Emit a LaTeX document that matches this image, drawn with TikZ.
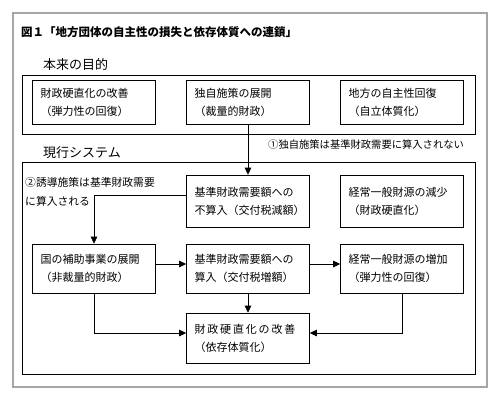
\documentclass[tikz,border=0pt]{standalone}
\usepackage{fontspec}
\setmainfont{Noto Sans CJK JP}
\usetikzlibrary{arrows.meta}

\begin{document}
\begin{tikzpicture}[x=1pt,y=-1pt,
  box/.style={draw,line width=.6pt,text width=107pt,inner xsep=8pt,inner ysep=0pt,
    align=left,font=\fontsize{11}{18}\selectfont},
  arr/.style={line width=.6pt,-{Triangle[length=7pt,width=6.5pt]}},
  dbl/.style={double,double distance=1.6pt,line width=.5pt},
  lbl/.style={inner sep=0pt,anchor=west}]
\useasboundingbox (0,0) rectangle (500,400);
\draw[gray!70,line width=1.4pt] (13,13) rectangle (487,387);
\node[lbl,font=\fontsize{11.5}{14}\selectfont\bfseries] (title) at (21,32) {図１「地方団体の自主性の損失と依存体質への連鎖」};

% 本来の目的
\node[lbl,font=\fontsize{13}{15}\selectfont] (honrai) at (43,65) {本来の目的};
\draw[line width=1pt] (22,75) rectangle (475,134);
\node[box,minimum height=44pt] (kaizen) at (94,102) {財政硬直化の改善\\（弾力性の回復）};
\node[box,minimum height=44pt] (dokuji) at (248,102) {独自施策の展開\\（裁量的財政）};
\node[box,minimum height=44pt] (jishu) at (402,102) {地方の自主性回復\\（自立体質化）};
\draw[dbl] ([yshift=7pt]kaizen.east) -- ([yshift=7pt]dokuji.west);
\draw[dbl] ([yshift=7pt]dokuji.east) -- ([yshift=7pt]jishu.west);

\node[lbl,font=\fontsize{10.3}{12}\selectfont] (note1) at (268,145) {①独自施策は基準財政需要に算入されない};

% 現行システム
\node[lbl,font=\fontsize{13}{15}\selectfont] (genkou) at (43,153) {現行システム};
\draw[line width=1pt] (22,162) rectangle (475,374);
\node[box,minimum height=52pt] (fusan) at (248,201) {基準財政需要額への\\不算入（交付税減額）};
\node[box,minimum height=52pt] (genshou) at (402,201) {経常一般財源の減少\\（財政硬直化）};
\node[inner sep=0pt,anchor=north west,align=left,font=\fontsize{10.8}{19}\selectfont] (note2) at (25,177) {②誘導施策は基準財政需要\\に算入される};
\node[box,minimum height=49pt] (hojo) at (94,268.5) {国の補助事業の展開\\（非裁量的財政）};
\node[box,minimum height=49pt] (sannyu) at (248,268.5) {基準財政需要額への\\算入（交付税増額）};
\node[box,minimum height=49pt] (zouka) at (402,268.5) {経常一般財源の増加\\（弾力性の回復）};
\node[box,minimum height=50pt] (izon) at (248,338) {財\,政\,硬\,直\,化\,の\,改\,善\\（依存体質化）};

\draw[arr] (dokuji) -- (fusan);
\draw[dbl] ([yshift=4pt]fusan.east) -- ([yshift=4pt]genshou.west);
\draw[arr] ([yshift=6pt]fusan.west) -| (hojo.north);
\draw[arr] ([yshift=4.5pt]hojo.east) -- ([yshift=4.5pt]sannyu.west);
\draw[arr] ([yshift=4.5pt]sannyu.east) -- ([yshift=4.5pt]zouka.west);
\draw[arr] (sannyu) -- (izon);
\draw[arr] (hojo.south) |- ([yshift=5pt]izon.west);
\draw[arr] (zouka.south) |- ([yshift=5pt]izon.east);
\end{tikzpicture}
\end{document}
